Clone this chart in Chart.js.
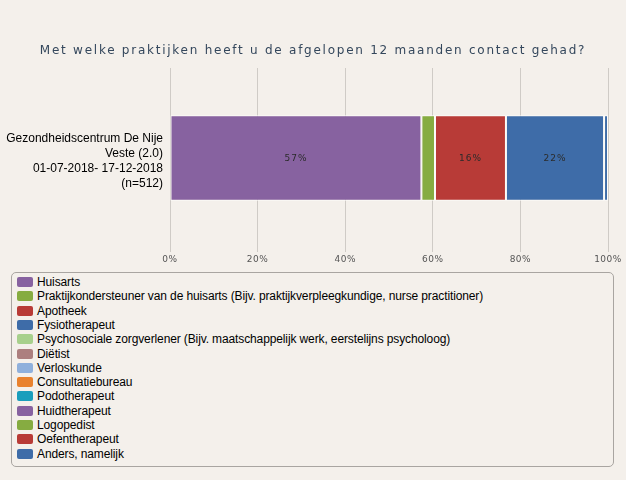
<!DOCTYPE html>
<html>
<head>
<meta charset="utf-8">
<script src="https://cdn.jsdelivr.net/npm/chart.js@4.4.1/dist/chart.umd.min.js"></script>
<style>
  html, body { margin: 0; padding: 0; background: #f4f0eb; }
  #wrap { position: relative; width: 626px; height: 480px; overflow: hidden; }
  #title { position: absolute; left: 0; top: 43px; width: 626px; text-align: center;
    font-family: "DejaVu Sans", Verdana, sans-serif; font-size: 12px; letter-spacing: 1.75px; color: #34475c; }
  #chartBox { position: absolute; left: 0; top: 0; width: 626px; height: 270px; }
  #legend { position: absolute; left: 11px; top: 272px; width: 601px; height: 193px;
    border: 1px solid #a9a5a1; border-radius: 5px; box-sizing: content-box; }
  .item { position: absolute; left: 5px; height: 14px; font-family: "Liberation Sans", Arial, sans-serif;
    font-size: 12px; letter-spacing: -0.12px; color: #000; white-space: nowrap; line-height: 14px; }
  .sw { position: absolute; left: 0; top: 2px; width: 16px; height: 10px; border-radius: 2px; }
  .tx { position: absolute; left: 20px; top: 0; }
</style>
</head>
<body>
<div id="wrap">
  <div id="chartBox"><canvas id="c" width="626" height="270"></canvas></div>
  <div id="title"></div>
  <div id="legend"></div>
</div>
<script>
const chartTitle = 'Met welke praktijken heeft u de afgelopen 12 maanden contact gehad?';
const categories = [['Gezondheidscentrum De Nije', 'Veste (2.0)', '01-07-2018- 17-12-2018', '(n=512)']];
const seriesNames = [
  'Huisarts',
  'Praktijkondersteuner van de huisarts (Bijv. praktijkverpleegkundige, nurse practitioner)',
  'Apotheek',
  'Fysiotherapeut',
  'Psychosociale zorgverlener (Bijv. maatschappelijk werk, eerstelijns psycholoog)',
  'Diëtist',
  'Verloskunde',
  'Consultatiebureau',
  'Podotherapeut',
  'Huidtherapeut',
  'Logopedist',
  'Oefentherapeut',
  'Anders, namelijk'
];
const seriesValues = [57.4, 3.1, 16.2, 22.4, 0, 0, 0, 0, 0, 0, 0, 0, 0.9];
const seriesColors = ['#8762a0', '#86ac41', '#b83b37', '#3e6ca8', '#a7d08c', '#ac7f7f', '#8fb0dc',
  '#e9822e', '#1a9ebc', '#8762a0', '#86ac41', '#b83b37', '#3e6ca8'];
const tickValues = [0, 20, 40, 60, 80, 100];

document.getElementById('title').textContent = chartTitle;

const datasets = seriesNames.map((name, i) => ({
  label: name,
  data: [seriesValues[i]],
  backgroundColor: seriesColors[i],
  borderColor: '#fdfcfa',
  borderWidth: 1,
  borderSkipped: false,
  categoryPercentage: 1,
  barPercentage: 0.475
}));

const segLabels = {
  id: 'segLabels',
  afterDatasetsDraw(chart) {
    const ctx = chart.ctx;
    ctx.save();
    ctx.font = '9px "DejaVu Sans", Verdana, sans-serif';
    ctx.letterSpacing = '1px';
    ctx.fillStyle = '#2b2b2b';
    ctx.textAlign = 'center';
    ctx.textBaseline = 'middle';
    chart.data.datasets.forEach((ds, i) => {
      const meta = chart.getDatasetMeta(i);
      meta.data.forEach((el, j) => {
        const v = ds.data[j];
        if (v >= 10) {
          const p = el.getCenterPoint();
          ctx.fillText(Math.round(v) + '%', p.x, p.y + 1);
        }
      });
    });
    ctx.restore();
    // x tick labels (drawn after datasets, z=1) get a little letter spacing
    ctx.letterSpacing = '0.5px';
  },
  afterDraw(chart) {
    chart.ctx.letterSpacing = '0px';
  }
};

const chart = new Chart(document.getElementById('c'), {
  type: 'bar',
  data: { labels: categories, datasets },
  options: {
    indexAxis: 'y',
    responsive: false,
    animation: false,
    devicePixelRatio: 1,
    layout: { padding: { left: 0, right: 18, top: 68, bottom: 0 } },
    plugins: { legend: { display: false }, tooltip: { enabled: false }, title: { display: false } },
    scales: {
      x: {
        stacked: true,
        min: 0, max: 100,
        afterBuildTicks: (s) => { s.ticks = tickValues.map(v => ({ value: v })); },
        afterFit: (s) => { s.height = 22; s.paddingLeft = 0; s.paddingRight = 0; },
        grid: { color: '#cfcbc6', lineWidth: 1, drawTicks: true, tickLength: 4 },
        border: { display: false },
        ticks: {
          z: 1,
          padding: 2,
          color: '#555',
          font: { family: '"DejaVu Sans", Verdana, sans-serif', size: 9 },
          callback: (v) => v + '%'
        }
      },
      y: {
        stacked: true,
        afterFit: (s) => { s.width = 170; s.paddingTop = 0; s.paddingBottom = 0; },
        grid: { display: false, drawTicks: false },
        border: { display: false },
        ticks: {
          padding: 7,
          labelOffset: 3,
          color: '#000',
          font: { family: '"Liberation Sans", Arial, sans-serif', size: 12, lineHeight: 1.25 }
        }
      }
    }
  },
  plugins: [segLabels]
});

const legendEl = document.getElementById('legend');
seriesNames.forEach((name, i) => {
  const item = document.createElement('div');
  item.className = 'item';
  item.style.top = (2 + i * 14.3) + 'px';
  const sw = document.createElement('span');
  sw.className = 'sw';
  sw.style.background = seriesColors[i];
  const tx = document.createElement('span');
  tx.className = 'tx';
  tx.textContent = name;
  item.appendChild(sw);
  item.appendChild(tx);
  legendEl.appendChild(item);
});
</script>
</body>
</html>
